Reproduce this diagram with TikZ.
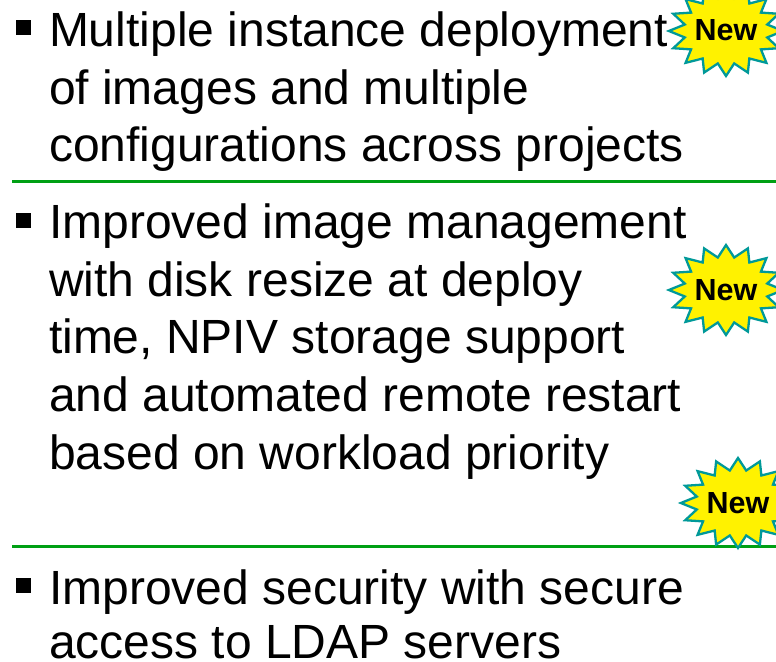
\documentclass[tikz,border=0pt]{standalone}
\usepackage{fontspec}
\setmainfont{Liberation Sans}
\usetikzlibrary{shapes.geometric}
\definecolor{rulegreen}{RGB}{0,160,20}
\definecolor{startealgreen}{RGB}{0,153,153}
\tikzset{
  x=1pt,y=-1pt,
  para/.style={anchor=north west,inner sep=0pt,outer sep=0pt,align=left,font=\fontsize{48}{57.6}\selectfont,text=black},
  bulletmark/.style={fill=black,minimum size=15pt,inner sep=0pt,outer sep=0pt},
  divider/.style={draw=rulegreen,line width=2.6pt},
  starburst/.style={star,star points=16,star point ratio=1.36,draw=startealgreen,fill=yellow,line width=2.3pt,minimum size=90pt,inner sep=0pt,outer sep=0pt,xscale=1.27},
  newlabel/.style={font=\bfseries\fontsize{30.5}{31}\selectfont,inner sep=0pt,outer sep=0pt}
}
\begin{document}
\begin{tikzpicture}
\useasboundingbox (0,0) rectangle (776,661);
\node[bulletmark] (b1) at (23.5,27.5) {};
\node[bulletmark] (b2) at (23.5,220) {};
\node[bulletmark] (b3) at (23.5,585.5) {};
\node[para] (t1) at (49,12) {Multiple instance deployment\\of images and multiple\\configurations across projects};
\node[para] (t2) at (49,204) {Improved image management\\with disk resize at deploy\\time, NPIV storage support\\and automated remote restart\\based on workload priority};
\node[para] (t3) at (49,570) {Improved security with secure\\[-3.6pt]access to LDAP servers};
\coordinate (l1a) at (12,181.5); \coordinate (l1b) at (776,181.5);
\coordinate (l2a) at (12,546.5); \coordinate (l2b) at (776,546.5);
\draw[divider] (l1a) -- (l1b);
\draw[divider] (l2a) -- (l2b);
\node[starburst] (s1) at (726,31) {};
\node[starburst] (s2) at (726,290) {};
\node[starburst] (s3) at (738,503) {};
\node[newlabel] (n1) at (726,30) {New};
\node[newlabel] (n2) at (726,290) {New};
\node[newlabel] (n3) at (738,503) {New};
\end{tikzpicture}
\end{document}
